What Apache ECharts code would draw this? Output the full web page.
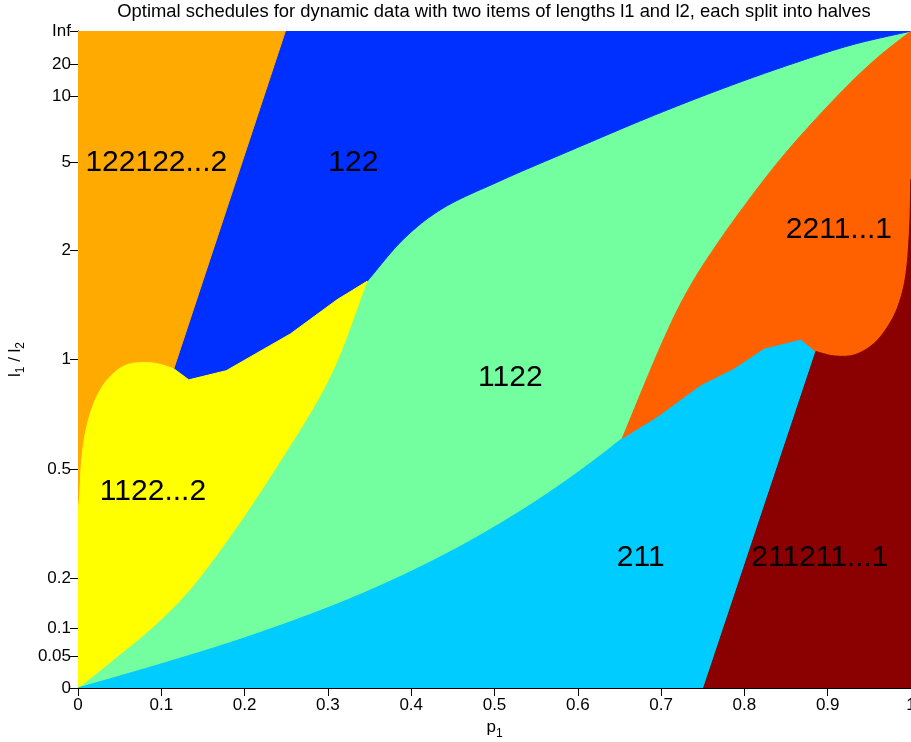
<!DOCTYPE html>
<html><head><meta charset="utf-8">
<script src="https://cdn.jsdelivr.net/npm/echarts@6/dist/echarts.min.js"></script>
<style>html,body{margin:0;padding:0;background:#fff}#c{width:911px;height:742px}</style>
</head><body><div id="c"></div>
<script>
// ---- axis ticks ----
const yTickValues = [0, 1/21, 1/11, 1/6, 1/3, 0.5, 2/3, 0.8, 0.9, 0.95, 1];
const yTickLabels = ['0', '0.05', '0.1', '0.2', '0.5', '1', '2', '5', '10', '20', 'Inf'];

// ---- region boundaries, [p1, plotted l1/l2 position] ----
const bOrangeBlue = [[0.249, 1.0], [0.115, 0.486]];
const bBlueGreen = [[0.347, 0.619], [0.3914, 0.684], [0.4358, 0.7285], [0.5066, 0.7718], [0.593, 0.819],
  [0.6867, 0.8692], [0.7707, 0.9109], [0.8427, 0.9437], [0.9268, 0.9781], [1.0, 1.0]];
const bBlueYellow = [[0.347, 0.619], [0.311, 0.591], [0.255, 0.539], [0.178, 0.483], [0.133, 0.469], [0.115, 0.486]];
const bBulbTop = [[0.115, 0.486], [0.0986, 0.4926], [0.0826, 0.4954], [0.0585, 0.4919], [0.0385, 0.474],
  [0.0225, 0.4436], [0.0105, 0.398], [0.0044, 0.3473], [0.0016, 0.2865], [0, 0.275]];
const bYellowGreen = [[0.347, 0.619], [0.3025, 0.4741], [0.2385, 0.3371], [0.1753, 0.218],
  [0.1305, 0.1445], [0.0904, 0.0937], [0.0424, 0.0431], [0, 0]];
const bGreenCyan = [[0, 0], [0.0984, 0.0361], [0.1981, 0.0755], [0.2905, 0.1176], [0.3505, 0.1488], [0.4106, 0.1841],
  [0.4706, 0.2238], [0.5306, 0.2688], [0.5786, 0.309], [0.6267, 0.3534], [0.6535, 0.3803]];
const bGreenRed = [[0.6535, 0.3803], [0.6867, 0.4826], [0.7047, 0.5354], [0.7227, 0.5833], [0.7431, 0.6292],
  [0.7647, 0.6711], [0.7947, 0.7249], [0.8487, 0.8132], [0.9232, 0.916], [0.9628, 0.9627], [1.0, 1.0]];
const bRedCyan = [[0.6535, 0.3803], [0.6955, 0.4132], [0.7476, 0.4614], [0.7876, 0.4868], [0.8237, 0.5173],
  [0.8678, 0.531], [0.8858, 0.5121]];
const bBulbBottom = [[0.8858, 0.5121], [0.9078, 0.5055], [0.9319, 0.5071], [0.9559, 0.5249], [0.977, 0.5606],
  [0.988, 0.595], [0.994, 0.6314], [0.998, 0.6922], [1.0, 0.7744]];
const bCyanDark = [[0.8858, 0.5121], [0.751, 0]];

// ---- region labels ----
const regionNames = ['122122...2', '122', '2211...1', '1122', '1122...2', '211', '211211...1'];
const labelPos = [[0.094, 0.799], [0.3305, 0.799], [0.9135, 0.697], [0.519, 0.472], [0.09, 0.2986], [0.6755, 0.199], [0.8906, 0.199]];

const rev = a => a.slice().reverse();
const S = (pts) => ({ pts, smooth: true });
const L = (pts) => ({ pts, smooth: false });

const regions = [
  { color: '#73ff9f', segs: [L([[0, 0], [1, 0], [1, 1], [0, 1]])] },                                        // 1122
  { color: '#0030ff', segs: [L([[0.249, 1], [1, 1]]), S(rev(bBlueGreen)), L(bBlueYellow), L(rev(bOrangeBlue))] }, // 122
  { color: '#ffaa00', segs: [L([[0, 1], [0.249, 1]]), L(bOrangeBlue), S(bBulbTop), L([[0, 0.275], [0, 1]])] },     // 122122...2
  { color: '#ffff00', segs: [S(rev(bBulbTop)), L(rev(bBlueYellow)), S(bYellowGreen), L([[0, 0], [0, 0.275]])] },   // 1122...2
  { color: '#00ccff', segs: [S(bGreenCyan), L(bRedCyan), L(bCyanDark), L([[0.751, 0], [0, 0]])] },                 // 211
  { color: '#ff6000', segs: [S(bGreenRed), L([[1, 1], [1, 0.7744]]), S(rev(bBulbBottom)), L(rev(bRedCyan))] },     // 2211...1
  { color: '#8b0000', segs: [S(bBulbBottom), L([[1, 0.7744], [1, 0], [0.751, 0]]), L(rev(bCyanDark))] }            // 211211...1
];

// centripetal Catmull-Rom sampling in pixel space (only for drawing smooth boundary curves)
function sampleSeg(pix, smooth) {
  if (!smooth || pix.length < 3) return pix.slice();
  const n = pix.length, N = 16, out = [pix[0]];
  const ext = [[2 * pix[0][0] - pix[1][0], 2 * pix[0][1] - pix[1][1]]].concat(pix,
    [[2 * pix[n - 1][0] - pix[n - 2][0], 2 * pix[n - 1][1] - pix[n - 2][1]]]);
  const d = (a, b) => Math.max(Math.pow(Math.hypot(b[0] - a[0], b[1] - a[1]), 0.5), 1e-4);
  const lerp = (a, b, ta, tb, t) => [((tb - t) * a[0] + (t - ta) * b[0]) / (tb - ta), ((tb - t) * a[1] + (t - ta) * b[1]) / (tb - ta)];
  for (let i = 1; i < ext.length - 2; i++) {
    const P0 = ext[i - 1], P1 = ext[i], P2 = ext[i + 1], P3 = ext[i + 2];
    const t0 = 0, t1 = t0 + d(P0, P1), t2 = t1 + d(P1, P2), t3 = t2 + d(P2, P3);
    for (let k = 1; k <= N; k++) {
      const t = t1 + (t2 - t1) * k / N;
      const A1 = lerp(P0, P1, t0, t1, t), A2 = lerp(P1, P2, t1, t2, t), A3 = lerp(P2, P3, t2, t3, t);
      const B1 = lerp(A1, A2, t0, t2, t), B2 = lerp(A2, A3, t1, t3, t);
      out.push(lerp(B1, B2, t1, t2, t));
    }
  }
  return out;
}

const FONT = "'Liberation Sans', Arial, Helvetica, sans-serif";

const series = regions.map(r => {
  const flat = [].concat(...r.segs.map(s => s.pts));
  return {
    type: 'custom', coordinateSystem: 'cartesian2d', xAxisIndex: 0, yAxisIndex: 0,
    silent: true, animation: false, clip: true,
    data: flat, encode: { x: 0, y: 1 },
    renderItem: (params, api) => {
      if (params.dataIndex !== 0) return null;
      let points = [];
      r.segs.forEach(s => {
        const pix = s.pts.map(p => api.coord(p));
        const smp = sampleSeg(pix, s.smooth);
        points = points.concat(points.length ? smp.slice(1) : smp);
      });
      return { type: 'polygon', shape: { points }, style: { fill: r.color, stroke: r.color, lineWidth: 1 } };
    }
  };
});

series.push({
  type: 'custom', coordinateSystem: 'cartesian2d', xAxisIndex: 0, yAxisIndex: 0,
  silent: true, animation: false, z: 10,
  data: labelPos.map((p, i) => [p[0], p[1], i]), encode: { x: 0, y: 1 },
  renderItem: (params, api) => {
    const c = api.coord([api.value(0), api.value(1)]);
    return { type: 'text', x: c[0], y: c[1],
      style: { text: regionNames[api.value(2)], fill: '#000', fontSize: 30, fontFamily: FONT, align: 'center', verticalAlign: 'middle' } };
  }
});

const yLabelFmt = v => {
  let best = 0;
  yTickValues.forEach((t, i) => { if (Math.abs(t - v) < Math.abs(yTickValues[best] - v)) best = i; });
  return yTickLabels[best];
};

const axisCommon = {
  axisLine: { show: true, lineStyle: { color: '#000', width: 1 } },
  axisTick: { show: true, inside: true, length: 8, lineStyle: { color: '#000', width: 1 } },
  splitLine: { show: false }
};

const chart = echarts.init(document.getElementById('c'), null, { renderer: 'canvas' });
chart.setOption({
  backgroundColor: '#fff',
  animation: false,
  grid: { left: 78, top: 31, right: 0, bottom: 54, containLabel: false, outerBoundsMode: 'none' },
  graphic: [{
    type: 'text', x: 494, y: 12, silent: true,
    style: { text: 'Optimal schedules for dynamic data with two items of lengths l1 and l2, each split into halves',
      fill: '#000', fontSize: 18.4, fontFamily: FONT, align: 'center', verticalAlign: 'middle' }
  }],
  xAxis: [
    Object.assign({}, axisCommon, {
      type: 'value', min: 0, max: 1, interval: 0.1, position: 'bottom',
      axisLabel: { color: '#000', fontSize: 17, fontFamily: FONT, margin: 9, formatter: v => String(+v.toFixed(1)) },
      name: '{a|p}{s|1}', nameLocation: 'middle', nameGap: 16,
      nameTextStyle: { color: '#000', verticalAlign: 'top', rich: {
        a: { fontSize: 17, fontFamily: FONT, color: '#000' },
        s: { fontSize: 12, fontFamily: FONT, color: '#000', padding: [12, 0, 0, 0] } } }
    }),
    Object.assign({}, axisCommon, {
      type: 'value', min: 0, max: 1, interval: 0.1, position: 'top', axisLabel: { show: false }
    })
  ],
  yAxis: [
    Object.assign({}, axisCommon, {
      type: 'value', min: 0, max: 1, position: 'left',
      axisTick: { show: true, inside: true, length: 8, lineStyle: { color: '#000' }, customValues: yTickValues },
      axisLabel: { color: '#000', fontSize: 17, fontFamily: FONT, margin: 7, customValues: yTickValues, formatter: yLabelFmt },
      name: '{a|l}{s|1}{a| / l}{s|2}', nameLocation: 'middle', nameGap: 44, nameRotate: 90,
      nameTextStyle: { color: '#000', rich: {
        a: { fontSize: 17, fontFamily: FONT, color: '#000' },
        s: { fontSize: 12, fontFamily: FONT, color: '#000', padding: [12, 0, 0, 0] } } }
    }),
    Object.assign({}, axisCommon, {
      type: 'value', min: 0, max: 1, position: 'right',
      axisLine: { show: false },
      axisTick: { show: true, inside: true, length: 8, lineStyle: { color: '#000' }, customValues: yTickValues },
      axisLabel: { show: false }
    })
  ],
  series
});
</script>
</body></html>
